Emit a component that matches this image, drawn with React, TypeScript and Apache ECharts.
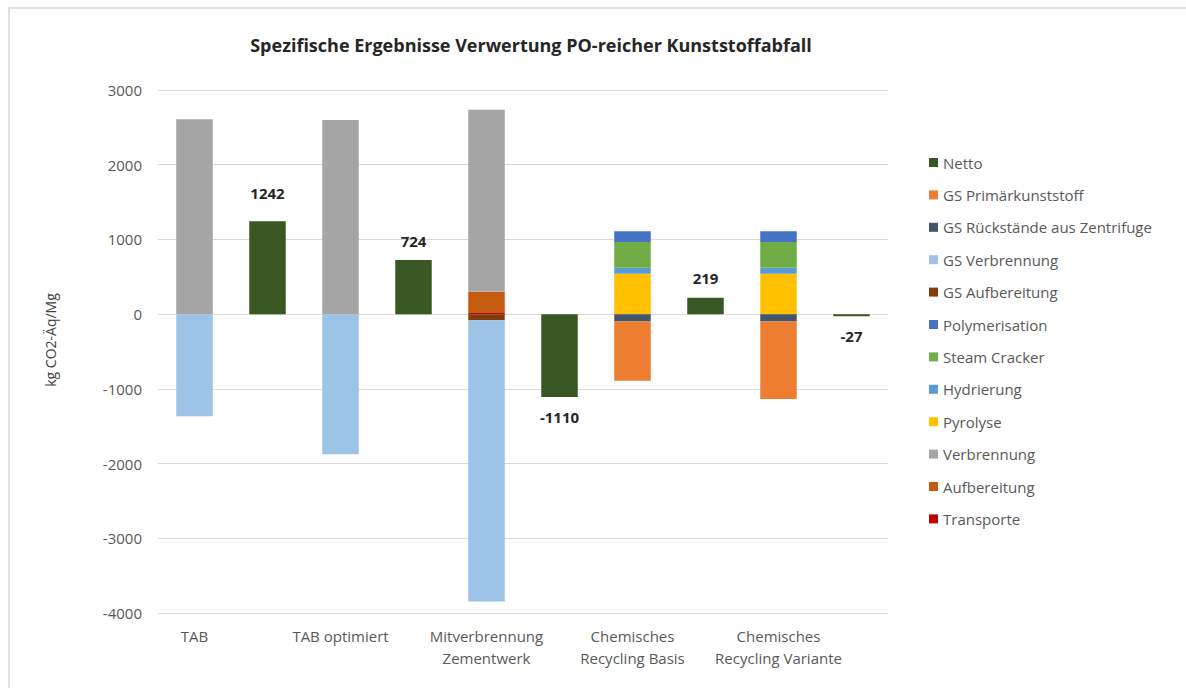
import React, { useEffect, useRef } from "react";
import * as echarts from "echarts";

// 10 slots: stacked bar for each scenario, followed by its Netto bar
const categories = [
  "TAB", "",
  "TAB optimiert", "",
  "Mitverbrennung\nZementwerk", "",
  "Chemisches\nRecycling Basis", "",
  "Chemisches\nRecycling Variante", "",
];

const transporte = [0, null, 0, null, 15, null, 0, null, 0, null];
const aufbereitung = [0, null, 0, null, 285, null, 0, null, 0, null];
const verbrennung = [2610, null, 2600, null, 2435, null, 0, null, 0, null];
const pyrolyse = [0, null, 0, null, 0, null, 540, null, 540, null];
const hydrierung = [0, null, 0, null, 0, null, 80, null, 80, null];
const steamCracker = [0, null, 0, null, 0, null, 345, null, 345, null];
const polymerisation = [0, null, 0, null, 0, null, 145, null, 145, null];
const gsAufbereitung = [0, null, 0, null, -83, null, 0, null, 0, null];
const gsVerbrennung = [-1368, null, -1876, null, -3762, null, 0, null, 0, null];
const gsRueckstaende = [0, null, 0, null, 0, null, -100, null, -100, null];
const gsPrimaer = [0, null, 0, null, 0, null, -791, null, -1037, null];
const netto = [null, 1242, null, 724, null, -1110, null, 219, null, -27];

const yTicks = { min: -4000, max: 3000, interval: 1000 };

const seriesDefs = [
  { name: "Transporte", data: transporte, color: "#C00000" },
  { name: "Aufbereitung", data: aufbereitung, color: "#C55A11" },
  { name: "Verbrennung", data: verbrennung, color: "#A5A5A5" },
  { name: "Pyrolyse", data: pyrolyse, color: "#FFC000" },
  { name: "Hydrierung", data: hydrierung, color: "#5B9BD5" },
  { name: "Steam Cracker", data: steamCracker, color: "#70AD47" },
  { name: "Polymerisation", data: polymerisation, color: "#4472C4" },
  { name: "GS Aufbereitung", data: gsAufbereitung, color: "#843C0C" },
  { name: "GS Verbrennung", data: gsVerbrennung, color: "#9DC3E6" },
  { name: "GS Rückstände aus Zentrifuge", data: gsRueckstaende, color: "#44546A" },
  { name: "GS Primärkunststoff", data: gsPrimaer, color: "#ED7D31" },
  { name: "Netto", data: netto, color: "#385723" },
];

const legendOrder = [
  "Netto",
  "GS Primärkunststoff",
  "GS Rückstände aus Zentrifuge",
  "GS Verbrennung",
  "GS Aufbereitung",
  "Polymerisation",
  "Steam Cracker",
  "Hydrierung",
  "Pyrolyse",
  "Verbrennung",
  "Aufbereitung",
  "Transporte",
];

const FONT = "'Open Sans', 'Noto Sans', sans-serif";

export default function App() {
  const ref = useRef<HTMLDivElement>(null);

  useEffect(() => {
    if (!ref.current) return;
    const chart = echarts.init(ref.current, undefined, { renderer: "svg" });

    const series = seriesDefs.map((s) => {
      const isNetto = s.name === "Netto";
      const data = s.data.map((v, i) => {
        if (!isNetto || v === null) return v;
        const pos = (v as number) >= 0;
        return {
          value: v,
          label: {
            show: true,
            position: pos ? "top" : "bottom",
            distance: i === 1 ? 21 : 12,
          },
        };
      });
      return {
        name: s.name,
        type: "bar",
        stack: "total",
        barWidth: "50%",
        data,
        itemStyle: { color: s.color },
        label: {
          show: false,
          fontFamily: FONT,
          fontWeight: "bold",
          fontSize: 15,
          color: "#262626",
        },
        emphasis: { disabled: true },
      };
    });

    chart.setOption({
      animation: false,
      backgroundColor: "#ffffff",
      title: {
        text: "Spezifische Ergebnisse Verwertung PO-reicher Kunststoffabfall",
        left: 526,
        top: 31,
        textAlign: "center",
        textStyle: {
          fontFamily: FONT,
          fontWeight: "bold",
          fontSize: 18,
          color: "#262626",
        },
      },
      grid: { left: 158, right: 298, top: 90, bottom: 75 },
      legend: {
        orient: "vertical",
        left: 924,
        top: 150,
        itemWidth: 9,
        itemHeight: 9,
        itemGap: 17.4,
        icon: "rect",
        data: legendOrder,
        textStyle: { fontFamily: FONT, fontSize: 15, color: "#595959" },
        selectedMode: false,
      },
      xAxis: {
        type: "category",
        data: categories,
        axisLine: { show: false, onZero: false },
        axisTick: { show: false },
        axisLabel: {
          interval: 0,
          margin: 12,
          fontFamily: FONT,
          fontSize: 15,
          color: "#595959",
          lineHeight: 22,
          align: "center",
        },
      },
      yAxis: {
        type: "value",
        min: yTicks.min,
        max: yTicks.max,
        interval: yTicks.interval,
        axisLine: { show: false },
        axisTick: { show: false },
        axisLabel: {
          margin: 16,
          fontFamily: FONT,
          fontSize: 15,
          color: "#595959",
          formatter: (v: number) => String(v),
        },
        splitLine: { lineStyle: { color: "#d9d9d9", width: 1 } },
      },
      graphic: [
        {
          type: "rect",
          shape: { x: 9, y: 8, width: 1200, height: 700 },
          style: { fill: "none", stroke: "#d9d9d9", lineWidth: 1.5 },
          silent: true,
        },
        {
          type: "text",
          x: 50,
          y: 340,
          rotation: Math.PI / 2,
          style: {
            text: "kg CO2-Äq/Mg",
            fontFamily: FONT,
            fontSize: 14,
            fill: "#404040",
            align: "center",
            verticalAlign: "middle",
          },
          silent: true,
        },
      ],
      series,
    });

    return () => chart.dispose();
  }, []);

  return (
    <div
      ref={ref}
      style={{ position: "fixed", left: 0, top: 0, width: 1186, height: 688 }}
    />
  );
}
